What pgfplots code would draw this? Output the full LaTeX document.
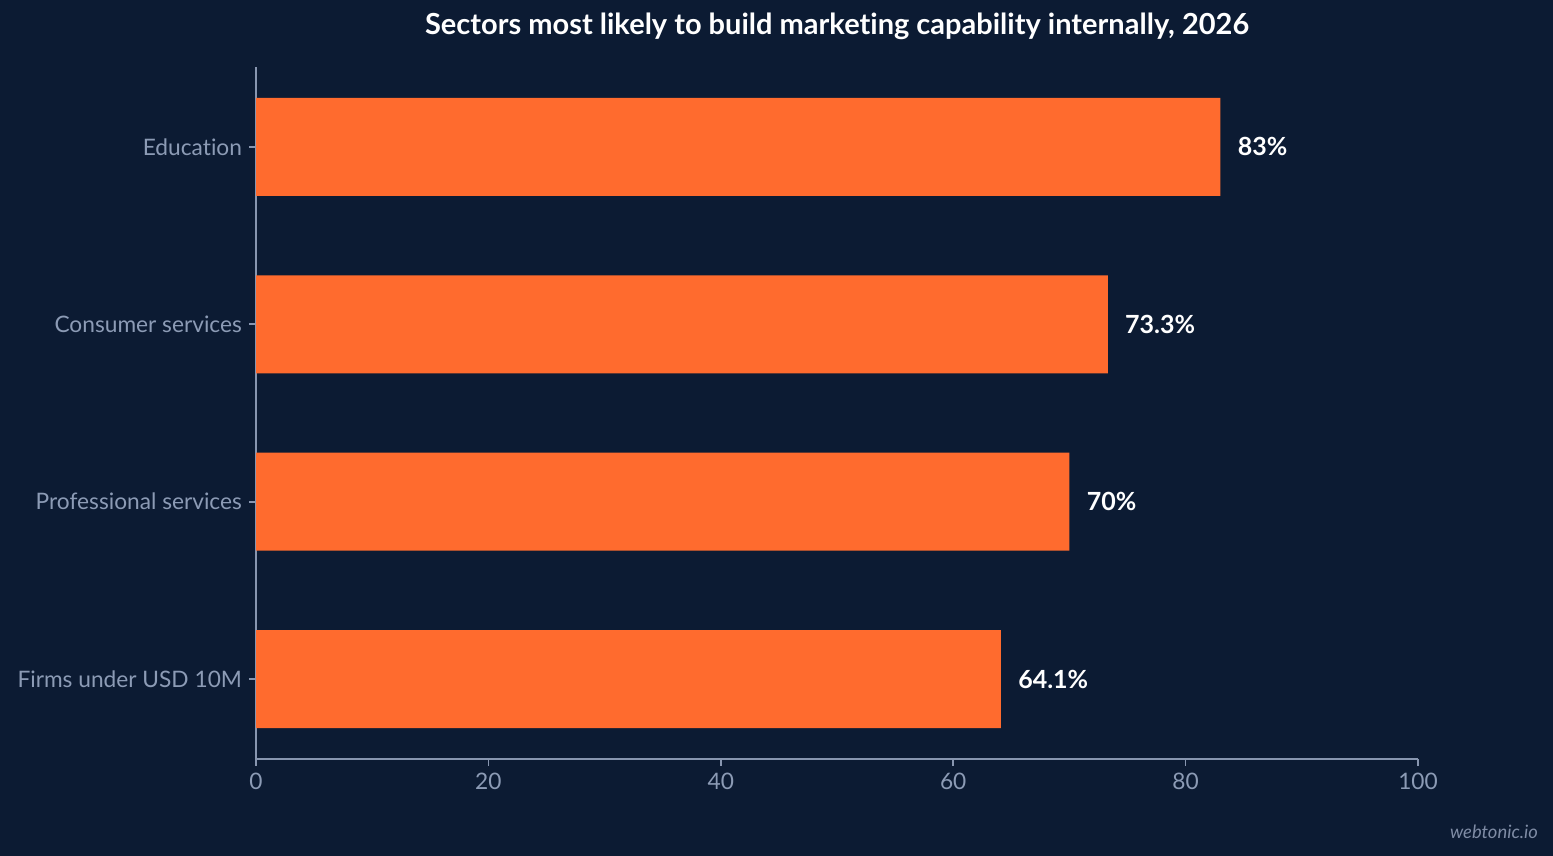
\documentclass[border=0pt]{standalone}
\usepackage{pgfplots}
\pgfplotsset{compat=1.18}
\usepackage{pgfplotstable}
\usepackage{fontspec}
\setmainfont{Lato}[Ligatures={NoCommon}]
\definecolor{bg}{HTML}{0C1B33}
\definecolor{bar}{HTML}{FF6B2E}
\definecolor{tickc}{HTML}{8C9BB5}
\definecolor{axc}{HTML}{8896B0}
\definecolor{wm}{HTML}{7F8CA5}
\pgfplotstableread{
y x lab
0 64.1 {64.1\%}
1 70 {70\%}
2 73.3 {73.3\%}
3 83 {83\%}
}\data
\begin{document}
\begin{tikzpicture}
\fill[bg] (0pt,0pt) rectangle (776.5pt,428pt);
\useasboundingbox (0pt,0pt) rectangle (776.5pt,428pt);
\node[anchor=base, text=white, font=\fontsize{14.5pt}{17pt}\selectfont\bfseries] at (418.5pt,410.5pt) {Sectors most likely to build marketing capability internally, 2026};
\node[anchor=base east, text=wm, font=\fontsize{9.2pt}{11pt}\selectfont\itshape] at (772.5pt,8.5pt) {webtonic.io};
\begin{axis}[
  at={(128pt,48.5pt)}, anchor=south west,
  scale only axis, width=581pt, height=346pt,
  xmin=0, xmax=100, ymin=-0.45, ymax=3.45,
  xbar, bar width=49pt,
  axis lines*=left,
  axis line style={axc, line width=0.8pt},
  xtick={0,20,...,100},
  ytick={0,1,2,3},
  yticklabels={Firms under USD 10M, Professional services, Consumer services, Education},
  tick align=outside, major tick length=3.5pt,
  tick style={axc, line width=0.8pt},
  ticklabel style={text=tickc, font=\fontsize{11.35pt}{13pt}\selectfont},
  /pgf/number format/assume math mode=true,
  point meta=explicit symbolic,
  nodes near coords,
  nodes near coords style={anchor=west, inner sep=0pt, xshift=8.5pt, text=white, font=\fontsize{12.5pt}{14pt}\selectfont\bfseries},
  clip=false,
]
\addplot[fill=bar, draw=none] table[x=x, y=y, meta=lab] {\data};
\end{axis}
\end{tikzpicture}
\end{document}
